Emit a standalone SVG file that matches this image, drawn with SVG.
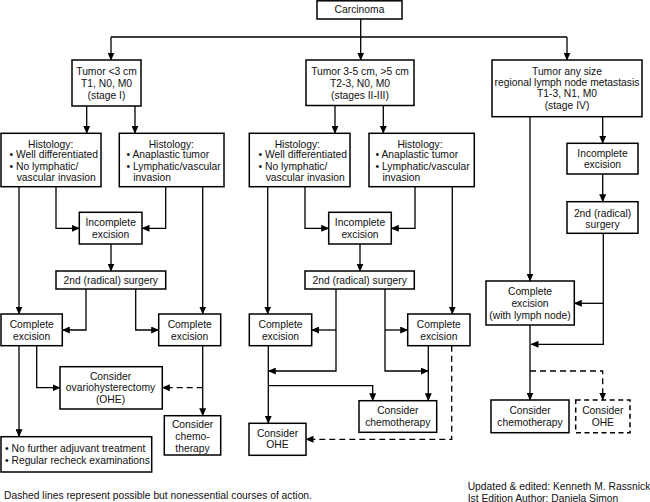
<svg xmlns="http://www.w3.org/2000/svg" width="650" height="502" viewBox="0 0 650 502">
<defs>
<marker id="ah" markerUnits="userSpaceOnUse" markerWidth="8" markerHeight="7" refX="7.5" refY="3.5" orient="auto">
<path d="M0,0 L8,3.5 L0,7 z" fill="#000"/>
</marker>
<style>
rect{fill:#fff;stroke:#000;stroke-width:1.5}
rect.dash{stroke-dasharray:5,3.5}
text{font-family:"Liberation Sans",Arial,Helvetica,sans-serif;font-size:10.3px;fill:#111}
.c{text-anchor:middle}
#connectors path{fill:none;stroke:#000;stroke-width:1.3}
#connectors path.a{marker-end:url(#ah)}
#connectors path.d{stroke-dasharray:6,4}
</style>
</defs>
<rect x="0" y="0" width="650" height="502" style="fill:#fff;stroke:none"/>

<g id="connectors">
<path d="M360.7,19 V37 M111,37 H567"/>
<path class="a" d="M111,37 V60"/>
<path class="a" d="M360.7,37 V60"/>
<path class="a" d="M567,37 V60"/>
<path class="a" d="M86.7,106 V133.3"/>
<path class="a" d="M135,106 V133.3"/>
<path class="a" d="M335,105.5 V133.3"/>
<path class="a" d="M383.3,105.5 V133.3"/>
<path class="a" d="M19,186.7 V314"/>
<path class="a" d="M56,186.7 V228.3 H79.3"/>
<path class="a" d="M165.7,186.7 V228.3 H142"/>
<path class="a" d="M202.7,186.7 V314"/>
<path class="a" d="M267.7,186.7 V314"/>
<path class="a" d="M305,186.7 V228.3 H328.7"/>
<path class="a" d="M415,186.7 V228.3 H391.3"/>
<path class="a" d="M452.3,186.7 V314"/>
<path class="a" d="M111,244 V271"/>
<path class="a" d="M360,244 V271"/>
<path class="a" d="M86,289 V330 H62.3"/>
<path class="a" d="M135.7,289 V330 H158.7"/>
<path class="a" d="M336,289 V371 H268.3"/>
<path class="a" d="M336,330 H311.7"/>
<path class="a" d="M385,289 V371 H428.3"/>
<path class="a" d="M385,330 H407.7"/>
<path class="a" d="M19,345.7 V436.7"/>
<path class="a" d="M36.7,345.7 V387.7 H60"/>
<path class="a" d="M202.7,345.7 V415.7"/>
<path class="a d" d="M202.7,387.7 H162.3"/>
<path class="a" d="M268.3,345.7 V423.3"/>
<path class="a" d="M268.3,385.7 H372.7 V400.7"/>
<path class="a" d="M428.3,345.7 V400.7"/>
<path class="a d" d="M451.7,345.7 V439.3 H306"/>
<path class="a" d="M530,116.7 V281"/>
<path class="a" d="M602.7,116.7 V143.3"/>
<path class="a" d="M602.7,174 V201.7"/>
<path class="a" d="M603.3,233.3 V344.3 H531"/>
<path class="a" d="M603.3,303.3 H574.3"/>
<path class="a" d="M530,325 V400"/>
<path class="a d" d="M530,371 H602.7 V400"/>
</g>

<g id="carcinoma"><rect x="317" y="0.8" width="85" height="18.2"/><text class="c" x="359.5" y="13.3">Carcinoma</text></g>

<g id="tumor1"><rect x="72" y="60" width="69" height="46"/>
<text class="c" x="106.5" y="75">Tumor &lt;3 cm</text><text class="c" x="106.5" y="86.7">T1, N0, M0</text><text class="c" x="106.5" y="98.6">(stage I)</text></g>

<g id="tumor2"><rect x="306" y="60" width="108" height="45.5"/>
<text class="c" x="360" y="75.2">Tumor 3-5 cm, &gt;5 cm</text><text class="c" x="360" y="86.8">T2-3, N0, M0</text><text class="c" x="360" y="98.5">(stages II-III)</text></g>

<g id="tumor3"><rect x="492" y="60" width="150" height="56.7"/>
<text class="c" x="567" y="74.8">Tumor any size</text><text class="c" x="567" y="86">regional lymph node metastasis</text><text class="c" x="567" y="97.4">T1-3, N1, M0</text><text class="c" x="567" y="109">(stage IV)</text></g>

<g id="hist1a"><rect x="1" y="133.3" width="100" height="53.4"/>
<text class="c" x="50.7" y="147.5">Histology:</text><text x="9.5" y="158.3">• Well differentiated</text><text x="9.5" y="169.8">• No lymphatic/</text><text x="16.7" y="181.2">vascular invasion</text></g>

<g id="hist1b"><rect x="119.3" y="133.3" width="104.7" height="53.4"/>
<text class="c" x="171.3" y="147.5">Histology:</text><text x="126.5" y="158.3">• Anaplastic tumor</text><text x="126.5" y="169.8">• Lymphatic/vascular</text><text x="133.3" y="181.2">invasion</text></g>

<g id="hist2a"><rect x="249.3" y="133.3" width="100.7" height="53.4"/>
<text class="c" x="297.3" y="147.5">Histology:</text><text x="258.5" y="158.3">• Well differentiated</text><text x="258.5" y="169.8">• No lymphatic/</text><text x="265.7" y="181.2">vascular invasion</text></g>

<g id="hist2b"><rect x="369" y="133.3" width="105.3" height="53.4"/>
<text class="c" x="420" y="147.5">Histology:</text><text x="375.5" y="158.3">• Anaplastic tumor</text><text x="375.5" y="169.8">• Lymphatic/vascular</text><text x="382.5" y="181.2">invasion</text></g>

<g id="incomplete1"><rect x="79.3" y="212.3" width="62.7" height="31.7"/>
<text class="c" x="110.7" y="226">Incomplete</text><text class="c" x="110.7" y="237.7">excision</text></g>

<g id="incomplete2"><rect x="328.7" y="212.3" width="62.6" height="31.7"/>
<text class="c" x="360" y="226">Incomplete</text><text class="c" x="360" y="237.7">excision</text></g>

<g id="incomplete3"><rect x="567" y="143.3" width="71" height="30.7"/>
<text class="c" x="602.5" y="157">Incomplete</text><text class="c" x="602.5" y="168.3">excision</text></g>

<g id="surgery1"><rect x="56" y="271" width="109.7" height="18"/>
<text class="c" x="110.8" y="283.8">2nd (radical) surgery</text></g>

<g id="surgery2"><rect x="305" y="271" width="109.3" height="18"/>
<text class="c" x="359.7" y="283.8">2nd (radical) surgery</text></g>

<g id="surgery3"><rect x="567" y="201.7" width="71" height="31.6"/>
<text class="c" x="602.5" y="216.5">2nd (radical)</text><text class="c" x="602.5" y="227.8">surgery</text></g>

<g id="complete1a"><rect x="1" y="314" width="61.3" height="31.7"/>
<text class="c" x="31.7" y="328">Complete</text><text class="c" x="31.7" y="339.5">excision</text></g>

<g id="complete1b"><rect x="158.7" y="314" width="62" height="31.7"/>
<text class="c" x="189.7" y="328">Complete</text><text class="c" x="189.7" y="339.5">excision</text></g>

<g id="complete2a"><rect x="249.3" y="314" width="62.4" height="31.7"/>
<text class="c" x="280.5" y="328">Complete</text><text class="c" x="280.5" y="339.5">excision</text></g>

<g id="complete2b"><rect x="407.7" y="314" width="62.3" height="31.7"/>
<text class="c" x="438.8" y="328">Complete</text><text class="c" x="438.8" y="339.5">excision</text></g>

<g id="complete3"><rect x="486" y="281" width="88.3" height="44"/>
<text class="c" x="530" y="295.3">Complete</text><text class="c" x="530" y="307">excision</text><text class="c" x="530" y="318.7">(with lymph node)</text></g>

<g id="ohe1"><rect x="60" y="366.7" width="102.3" height="42.3"/>
<text class="c" x="110.5" y="379.5">Consider</text><text class="c" x="110.5" y="391.3">ovariohysterectomy</text><text class="c" x="110.5" y="403.3">(OHE)</text></g>

<g id="chemo1"><rect x="164.3" y="415.7" width="56.4" height="39.3"/>
<text class="c" x="192.5" y="428">Consider</text><text class="c" x="192.5" y="440">chemo-</text><text class="c" x="192.5" y="451.6">therapy</text></g>

<g id="nofurther"><rect x="1" y="436.7" width="150.7" height="35.3"/>
<text x="5" y="452">• No further adjuvant treatment</text><text x="5" y="463.7">• Regular recheck examinations</text></g>

<g id="chemo2"><rect x="359" y="400.7" width="77.7" height="31.6"/>
<text class="c" x="397.8" y="414.3">Consider</text><text class="c" x="397.8" y="425.6">chemotherapy</text></g>

<g id="ohe2"><rect x="249" y="423.3" width="57" height="32"/>
<text class="c" x="277.5" y="436.5">Consider</text><text class="c" x="277.5" y="448">OHE</text></g>

<g id="chemo3"><rect x="491" y="400" width="78" height="32.7"/>
<text class="c" x="530" y="414.3">Consider</text><text class="c" x="530" y="425.6">chemotherapy</text></g>

<g id="ohe3"><rect class="dash" x="575.7" y="400" width="54.3" height="32.7"/>
<text class="c" x="602.8" y="414.3">Consider</text><text class="c" x="602.8" y="425.6">OHE</text></g>

<g id="notes">
<text x="4" y="498.7">Dashed lines represent possible but nonessential courses of action.</text>
<text x="467.7" y="489.5">Updated &amp; edited: Kenneth M. Rassnick</text>
<text x="467.7" y="501.5">Ist Edition Author: Daniela Simon</text>
</g>
</svg>
